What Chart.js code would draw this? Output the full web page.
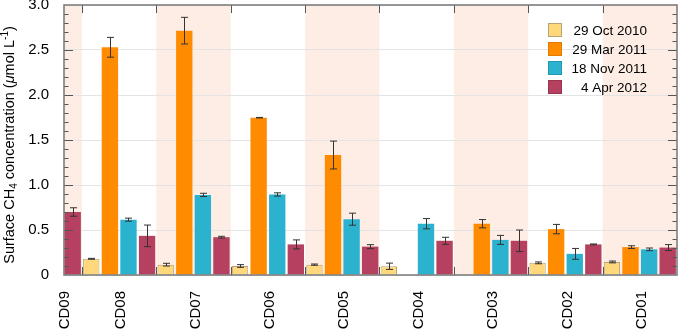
<!DOCTYPE html>
<html>
<head>
<meta charset="utf-8">
<script src="https://cdn.jsdelivr.net/npm/chart.js@4.4.0/dist/chart.umd.min.js"></script>
<style>
html, body { margin: 0; padding: 0; background: #fff; }
#wrap { width: 678px; height: 334px; }
</style>
</head>
<body>
<div id="wrap"><canvas id="myChart" width="678" height="334"></canvas></div>
<script>
// sampling sites, left to right
const categories = ['CD09', 'CD08', 'CD07', 'CD06', 'CD05', 'CD04', 'CD03', 'CD02', 'CD01'];
const seriesNames = ['29 Oct 2010', '29 Mar 2011', '18 Nov 2011', '4 Apr 2012'];

// surface CH4 (umol/L) and error (+/-)
const oct2010 = [null, 0.18, 0.115, 0.10, 0.115, 0.097, null, 0.135, 0.145];
const oct2010Err = [null, 0.005, 0.015, 0.015, 0.007, 0.035, null, 0.01, 0.01];
const mar2011 = [null, 2.53, 2.715, 1.748, 1.333, null, 0.57, 0.51, 0.31];
const mar2011Err = [null, 0.11, 0.148, 0.003, 0.155, null, 0.046, 0.052, 0.015];
const nov2011 = [null, 0.615, 0.89, 0.895, 0.62, 0.57, 0.39, 0.235, 0.285];
const nov2011Err = [null, 0.017, 0.018, 0.018, 0.067, 0.057, 0.05, 0.06, 0.015];
const apr2012 = [0.70, 0.435, 0.42, 0.34, 0.315, 0.38, 0.38, 0.34, 0.305];
const apr2012Err = [0.047, 0.12, 0.01, 0.05, 0.022, 0.039, 0.12, 0.005, 0.033];

const yTicks = [0, 0.5, 1.0, 1.5, 2.0, 2.5, 3.0];

const FONT = "'Liberation Sans', Arial, Helvetica, sans-serif";
const X_MIN = 0.258, X_MAX = 8.5;
const BAND = '#fdede4';
const FRAME = '#777';

function points(values) {
	return values.map((v, i) => ({ x: i, y: v }));
}

// shaded bands behind every other site
const bandsPlugin = {
	id: 'bands',
	beforeDraw(chart) {
		const { ctx, chartArea: a, scales: { x } } = chart;
		ctx.save();
		ctx.fillStyle = BAND;
		categories.forEach((c, i) => {
			if (i % 2 !== 0) return;
			const l = Math.max(a.left, x.getPixelForValue(i - 0.5));
			const r = Math.min(a.right, x.getPixelForValue(i + 0.5));
			ctx.fillRect(l, a.top, r - l, a.bottom - a.top);
		});
		ctx.restore();
	}
};

const errorBarsPlugin = {
	id: 'errorBars',
	afterDatasetsDraw(chart) {
		const { ctx, scales: { y } } = chart;
		ctx.save();
		ctx.strokeStyle = '#333';
		ctx.lineWidth = 1;
		chart.data.datasets.forEach((ds, di) => {
			const meta = chart.getDatasetMeta(di);
			meta.data.forEach((bar, i) => {
				const v = ds.data[i].y, e = ds.errors[i];
				if (v == null || e == null) return;
				const x = Math.round(bar.x) + 0.5;
				const t = y.getPixelForValue(v + e), b = y.getPixelForValue(v - e);
				ctx.beginPath();
				ctx.moveTo(x, t); ctx.lineTo(x, b);
				ctx.moveTo(x - 3.5, t); ctx.lineTo(x + 3.5, t);
				ctx.moveTo(x - 3.5, b); ctx.lineTo(x + 3.5, b);
				ctx.stroke();
			});
		});
		ctx.restore();
	}
};

// frame, inward ticks, site labels, axis title, legend
const decorPlugin = {
	id: 'decor',
	afterDraw(chart) {
		const { ctx, chartArea: a, scales: { x, y } } = chart;
		ctx.save();
		// inward ticks
		ctx.strokeStyle = '#555';
		ctx.lineWidth = 1;
		ctx.beginPath();
		for (let k = 1; k < 30; k++) {
			const py = Math.round(y.getPixelForValue(k / 10)) + 0.5;
			const len = k % 5 === 0 ? 9 : 4.5;
			ctx.moveTo(a.left, py); ctx.lineTo(a.left + len, py);
			ctx.moveTo(a.right, py); ctx.lineTo(a.right - len, py);
		}
		for (let i = 0; i < categories.length - 1; i++) {
			const px = Math.round(x.getPixelForValue(i + 0.5)) + 0.5;
			ctx.moveTo(px, a.top); ctx.lineTo(px, a.top + 8);
			ctx.moveTo(px, a.bottom); ctx.lineTo(px, a.bottom - 8);
		}
		ctx.stroke();
		// frame
		ctx.strokeStyle = FRAME;
		ctx.lineWidth = 1.5;
		ctx.strokeRect(a.left, a.top, a.right - a.left, a.bottom - a.top);

		// site labels, rotated
		ctx.fillStyle = '#000';
		ctx.font = '15px ' + FONT;
		ctx.textAlign = 'right';
		ctx.textBaseline = 'middle';
		categories.forEach((c, i) => {
			const px = Math.max(a.left + 1, x.getPixelForValue(i) + 2);
			ctx.save();
			ctx.translate(px, a.bottom + 16);
			ctx.rotate(-Math.PI / 2);
			ctx.fillText(c, 0, 0);
			ctx.restore();
		});

		// y axis title with sub/superscripts
		const parts = [
			{ t: 'Surface CH', f: '14.5px ' + FONT, dy: 0 },
			{ t: '4', f: '10px ' + FONT, dy: 4 },
			{ t: ' concentration (', f: '14.5px ' + FONT, dy: 0 },
			{ t: 'μ', f: 'italic 14.5px ' + FONT, dy: 0 },
			{ t: 'mol L', f: '14.5px ' + FONT, dy: 0 },
			{ t: '-1', f: '10px ' + FONT, dy: -5 },
			{ t: ')', f: '14.5px ' + FONT, dy: 0 }
		];
		let total = 0;
		parts.forEach(p => { ctx.font = p.f; p.w = ctx.measureText(p.t).width; total += p.w; });
		ctx.save();
		ctx.translate(10, (a.top + a.bottom) / 2 + 5);
		ctx.rotate(-Math.PI / 2);
		ctx.textAlign = 'left';
		let cx = -total / 2;
		parts.forEach(p => {
			ctx.font = p.f;
			ctx.fillText(p.t, cx, p.dy);
			cx += p.w;
		});
		ctx.restore();

		// legend
		ctx.font = '13.5px ' + FONT;
		ctx.textAlign = 'right';
		ctx.textBaseline = 'middle';
		chart.data.datasets.forEach((ds, di) => {
			const cy = 30 + di * 19;
			ctx.fillStyle = ds.backgroundColor;
			ctx.fillRect(548, cy - 7, 14, 14);
			ctx.strokeStyle = ds.borderColor;
			ctx.lineWidth = 1;
			ctx.strokeRect(548.5, cy - 6.5, 13, 13);
			ctx.fillStyle = '#000';
			ctx.fillText(ds.label, 647, cy + 1);
		});
		ctx.restore();
	}
};

const ctx = document.getElementById('myChart');

const myChart = new Chart(ctx, {
	type: 'bar',
	data: {
		datasets: [{
			label: seriesNames[0],
			data: points(oct2010),
			errors: oct2010Err,
			backgroundColor: '#ffd87c',
			borderColor: '#b9a273',
			borderWidth: 1
		}, {
			label: seriesNames[1],
			data: points(mar2011),
			errors: mar2011Err,
			backgroundColor: '#ff8c00',
			borderColor: '#e07a00',
			borderWidth: 0
		}, {
			label: seriesNames[2],
			data: points(nov2011),
			errors: nov2011Err,
			backgroundColor: '#2bb2cf',
			borderColor: '#1f9ab4',
			borderWidth: 0
		}, {
			label: seriesNames[3],
			data: points(apr2012),
			errors: apr2012Err,
			backgroundColor: '#b5405f',
			borderColor: '#9a3350',
			borderWidth: 0
		}]
	},
	options: {
		responsive: false,
		animation: false,
		layout: { padding: { left: 0, right: 1, top: 5, bottom: 0 } },
		datasets: { bar: { categoryPercentage: 1, barPercentage: 0.88 } },
		plugins: {
			legend: { display: false },
			tooltip: { enabled: false }
		},
		scales: {
			x: {
				type: 'linear',
				min: X_MIN,
				max: X_MAX,
				offset: false,
				grid: { display: false },
				border: { display: false },
				ticks: { display: false },
				afterBuildTicks: s => { s.ticks = categories.map((c, i) => ({ value: i })); },
				afterFit: s => { s.height = 59; s.paddingLeft = 0; s.paddingRight = 0; }
			},
			y: {
				min: 0,
				max: 3,
				afterBuildTicks: s => { s.ticks = yTicks.map(v => ({ value: v })); },
				ticks: {
					padding: 15,
					color: '#000',
					font: { family: FONT, size: 15 },
					callback: v => v === 0 ? '0' : v.toFixed(1)
				},
				grid: { color: '#e4e4e4', drawTicks: false, lineWidth: 1 },
				border: { display: false },
				afterFit: s => { s.width = 64; s.paddingTop = 0; s.paddingBottom = 0; }
			}
		}
	},
	plugins: [bandsPlugin, errorBarsPlugin, decorPlugin]
});
</script>
</body>
</html>
